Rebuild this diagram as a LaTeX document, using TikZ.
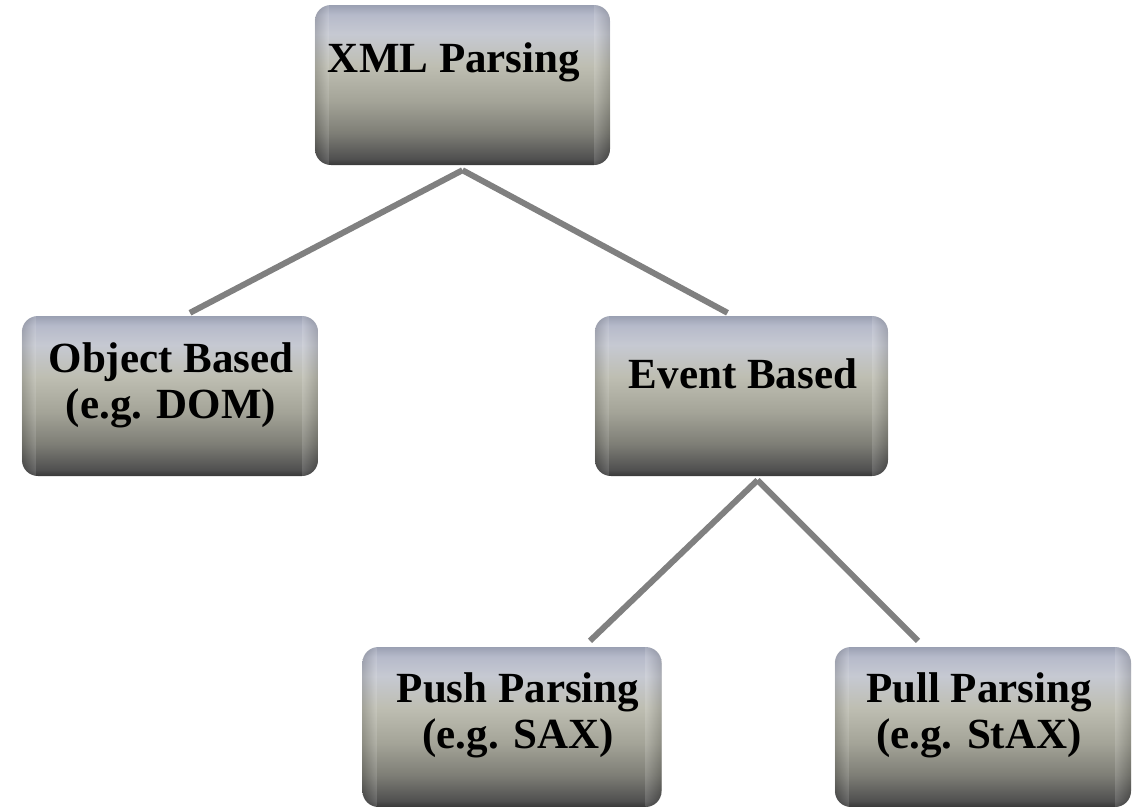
\documentclass[tikz,border=0pt]{standalone}
\usepackage{fontspec}
\setmainfont{Liberation Serif}
\usetikzlibrary{backgrounds}
\definecolor{sA}{HTML}{383838}
\definecolor{sB}{HTML}{505050}
\definecolor{sC}{HTML}{7E7E76}
\definecolor{sD}{HTML}{A4A498}
\definecolor{sE}{HTML}{BEBEB2}
\definecolor{sF}{HTML}{C6C9D2}
\definecolor{sG}{HTML}{B6BACA}
\definecolor{sH}{HTML}{9AA0B2}
\definecolor{linkgray}{HTML}{808080}
\pgfdeclareverticalshading{boxshade}{100bp}{color(0bp)=(sA); color(25bp)=(sA); color(27bp)=(sB); color(35bp)=(sC); color(45bp)=(sD); color(56bp)=(sE); color(66bp)=(sF); color(72bp)=(sG); color(75bp)=(sH); color(100bp)=(sH)}
\tikzset{
  cylbox/.style={rectangle, rounded corners=16pt, shading=boxshade, minimum width=#1, minimum height=160pt, inner sep=0pt},
  lbl/.style={font=\bfseries\fontsize{43}{46}\selectfont, align=center, inner sep=0pt, text=black},
  link/.style={draw=linkgray, line width=6pt}
}
\begin{document}
\begin{tikzpicture}[x=1pt,y=-1pt]
\useasboundingbox (0,0) rectangle (1145,806);
\node[cylbox=295pt] (xml) at (462.5,85) {};
\node[cylbox=296pt] (obj) at (170,396) {};
\node[cylbox=293pt] (evt) at (741.5,396) {};
\node[cylbox=299pt] (push) at (512,727) {};
\node[cylbox=296pt] (pull) at (983,727) {};
\foreach \n in {xml,obj,evt,push,pull} {
  \begin{scope}
    \clip[rounded corners=16pt] (\n.north west) rectangle (\n.south east);
    \shade[left color=black, right color=white, fill opacity=0.14] (\n.north west) rectangle ([xshift=14pt]\n.south west);
    \shade[left color=white, right color=black, fill opacity=0.14] ([xshift=-16pt]\n.north east) rectangle (\n.south east);
  \end{scope}
}
\node[lbl, anchor=base] (xmlt) at (454,72) {XML Parsing};
\node[lbl] (objt) at (171,385) {Object Based\\(e.g. DOM)};
\node[lbl, anchor=base] (evtt) at (743,388) {Event Based};
\node[lbl] (pusht) at (518,715) {Push Parsing\\(e.g. SAX)};
\node[lbl] (pullt) at (979,715) {Pull Parsing\\(e.g. StAX)};
\begin{scope}[on background layer]
\draw[link] ([yshift=-5pt]xml.south) -- ([xshift=20pt,yshift=3pt]obj.north);
\draw[link] ([yshift=-5pt]xml.south) -- ([xshift=-14pt,yshift=3pt]evt.north);
\draw[link] ([xshift=16pt,yshift=-4pt]evt.south) -- ([xshift=78pt,yshift=6pt]push.north);
\draw[link] ([xshift=16pt,yshift=-4pt]evt.south) -- ([xshift=-65pt,yshift=6pt]pull.north);
\end{scope}
\end{tikzpicture}
\end{document}
